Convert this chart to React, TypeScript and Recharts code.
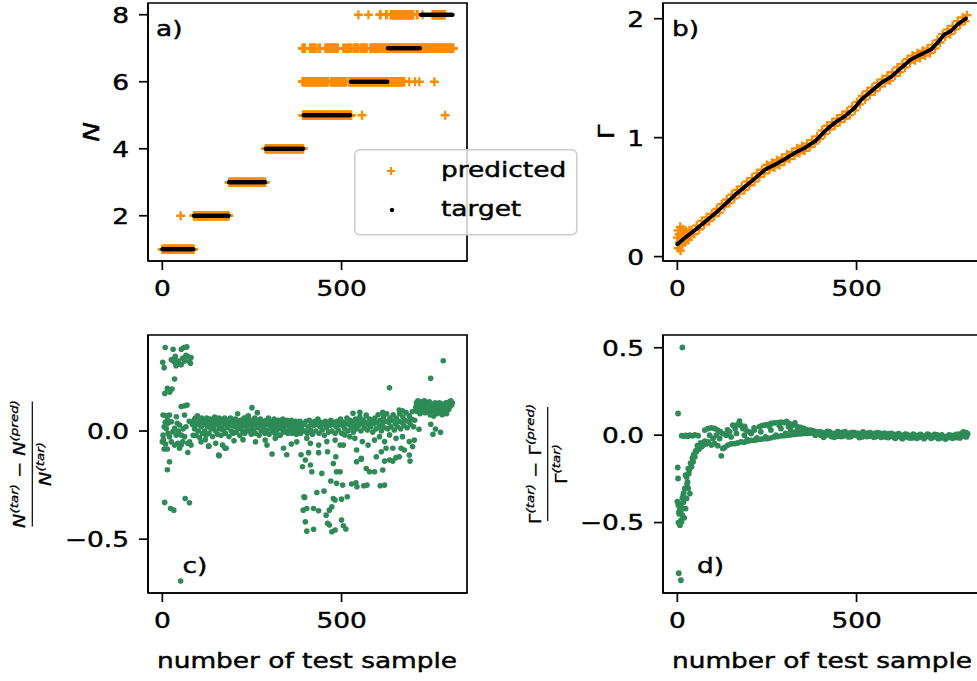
import React from 'react';
import { ScatterChart, Scatter, XAxis, YAxis, ReferenceArea } from 'recharts';

const FONT = '"DejaVu Sans", sans-serif';
const TEXT_SCALE = 1.2;
const TEXT_HALO = 0.45;
const ORANGE = '#ff8c00';
const GREEN = '#2e8b57';

const SERIES_NAMES = ['predicted', 'target'];
const PANEL_LETTERS = ['a)', 'b)', 'c)', 'd)'];
const X_LABEL = 'number of test sample';
const X_DOMAIN = [-40, 850];
const X_TICKS = [0, 500];

// a) runs of [level, first sample, last sample]
const aTargetRuns = [
  [1, 0, 87], [2, 88, 185], [3, 186, 287], [4, 288, 393],
  [5, 394, 524], [6, 526, 628], [7, 629, 719], [8, 721, 810],
];
const aPredictedRuns = [
  [1, 0, 87], [2, 51, 51], [2, 88, 185], [3, 186, 287], [4, 288, 393],
  [5, 392, 527], [5, 557, 557], [5, 789, 789],
  [6, 391, 462], [6, 470, 512], [6, 520, 675], [6, 689, 689], [6, 705, 705], [6, 717, 717], [6, 759, 759],
  [7, 391, 398], [7, 412, 428], [7, 436, 440], [7, 455, 490], [7, 505, 509], [7, 516, 527],
  [7, 534, 546], [7, 553, 570], [7, 580, 812],
  [8, 547, 547], [8, 575, 575], [8, 607, 609], [8, 624, 626], [8, 637, 700], [8, 710, 712],
  [8, 726, 726], [8, 754, 788],
];
const aYTicks = [2, 4, 6, 8];

// b) Gamma
const bTarget = [
  [0, 0.104], [25, 0.168], [52, 0.23], [80, 0.3], [108, 0.37], [136, 0.448], [163, 0.524],
  [191, 0.594], [219, 0.664], [246, 0.734], [274, 0.776], [302, 0.824], [329, 0.874], [357, 0.916],
  [385, 0.972], [403, 1.028], [422, 1.084], [440, 1.126], [468, 1.182], [495, 1.252], [514, 1.322],
  [542, 1.392], [569, 1.462], [597, 1.512], [625, 1.588], [652, 1.658], [680, 1.7], [708, 1.742],
  [726, 1.798], [745, 1.868], [763, 1.896], [782, 1.952], [805, 2.002],
];
const bPredicted = [
  [0, 0.16], [2, 0.22], [3, 0.07], [5, 0.19], [6, 0.12], [8, 0.25], [9, 0.05], [11, 0.17], [12, 0.21],
  [14, 0.1], [15, 0.23], [17, 0.14], [19, 0.2], [21, 0.12], [23, 0.22], [25, 0.15], [28, 0.2],
  [31, 0.14], [34, 0.22], [37, 0.17],
  [40, 0.22], [47, 0.19], [54, 0.26], [61, 0.23], [68, 0.3], [75, 0.27], [82, 0.33], [89, 0.3],
  [96, 0.36], [103, 0.34], [110, 0.4], [117, 0.37], [124, 0.44], [131, 0.42], [138, 0.48],
  [145, 0.45], [152, 0.52], [159, 0.49], [166, 0.56], [173, 0.53], [180, 0.59], [187, 0.56],
  [194, 0.63], [201, 0.6], [208, 0.66], [215, 0.63], [222, 0.7], [229, 0.67], [236, 0.73],
  [243, 0.7], [250, 0.77], [257, 0.73], [264, 0.79], [271, 0.75], [278, 0.81], [285, 0.77],
  [292, 0.83], [299, 0.8], [306, 0.86], [313, 0.82], [320, 0.88], [327, 0.85], [334, 0.91],
  [341, 0.87], [348, 0.93], [355, 0.89], [362, 0.95], [369, 0.92], [376, 0.98], [383, 0.95],
  [390, 1.01], [397, 0.99], [404, 1.06], [411, 1.03], [418, 1.1], [425, 1.07], [432, 1.13],
  [439, 1.1], [446, 1.16], [453, 1.13], [460, 1.19], [467, 1.16], [474, 1.22], [481, 1.19],
  [488, 1.26], [495, 1.23], [502, 1.3], [509, 1.28], [516, 1.35], [523, 1.32], [530, 1.39],
  [537, 1.36], [544, 1.42], [551, 1.39], [558, 1.46], [565, 1.43], [572, 1.49], [579, 1.46],
  [586, 1.52], [593, 1.48], [600, 1.55], [607, 1.52], [614, 1.59], [621, 1.55], [628, 1.62],
  [635, 1.59], [642, 1.66], [649, 1.63], [656, 1.69], [663, 1.65], [670, 1.71], [677, 1.67],
  [684, 1.73], [691, 1.69], [698, 1.75], [705, 1.71], [712, 1.78], [719, 1.75], [726, 1.82],
  [733, 1.8], [740, 1.87], [747, 1.85], [754, 1.91], [761, 1.87], [768, 1.94], [775, 1.91],
  [782, 1.98], [789, 1.95], [796, 2.01], [803, 1.98], [808, 2.03],
];
const bYTicks = [0, 1, 2];

// c) relative error of N
const cLeft = [
  [1, 0.318], [5, 0.293], [8, 0.386], [30, 0.378], [53, 0.378], [60, 0.386], [68, 0.389],
  [25, 0.329], [29.6, 0.332], [32, 0.321], [38, 0.302], [41.5, 0.313], [45, 0.324], [48, 0.309],
  [52.6, 0.306], [57, 0.336], [62, 0.324], [71, 0.344], [76, 0.321], [78.4, 0.313], [80, 0.34],
  [66, 0.35], [36, 0.345], [34, 0.24], [14, 0.197], [27, 0.194], [21, 0.18], [7, 0.174],
  [2, 0.074], [11, 0.071], [20, 0.074], [5, 0.02], [11, 0.012], [16, -0.011], [2, -0.019],
  [20, -0.026], [25, -0.05], [0, -0.05], [5, -0.083], [14, -0.083], [34, -0.065], [43, -0.057],
  [52.6, -0.065], [48, -0.08], [71, -0.057], [76, -0.05], [80, -0.065], [71, -0.099],
  [52.6, 0.113], [62, 0.117], [69, 0.12], [39, 0.066], [41.5, 0.036], [48, 0.028], [62, 0.074],
  [29.6, -0.003], [34, 0.012], [39, -0.019], [25, 0.043], [16, 0.036], [14, 0.051],
  [52.6, -0.019], [62, -0.026], [57, -0.05], [66, 0.02], [75, 0.045], [84, 0.03], [8, 0.04],
  [3, -0.04], [9, -0.06], [45, 0.0], [58, 0.01], [86, -0.02],
  [20, -0.142], [14, -0.179], [6.5, -0.33], [23, -0.358], [32, -0.366], [63.6, -0.312],
  [75.6, -0.332], [51, -0.694],
];
const cBand = [
  [88, 0.05], [90, 0.01], [92, 0.06], [94, -0.02], [96, 0.03], [98, 0.07], [100, 0.0], [102, 0.04],
  [104, -0.03], [106, 0.05], [108, 0.02], [110, 0.06], [112, -0.01], [114, 0.03], [116, 0.05],
  [118, 0.0], [120, 0.04], [122, -0.02], [124, 0.06], [126, 0.02], [128, 0.045], [130, -0.01],
  [132, 0.03], [134, 0.055], [136, 0.01], [138, 0.04], [140, -0.025], [142, 0.05], [144, 0.02],
  [146, 0.065], [148, 0.0], [150, 0.035], [152, 0.05], [154, -0.015], [156, 0.03], [158, 0.06],
  [160, 0.01], [162, 0.045], [164, -0.02], [166, 0.02], [168, 0.055], [170, 0.005], [172, 0.04],
  [174, 0.06], [176, -0.01], [178, 0.03], [180, 0.05], [182, 0.015], [184, 0.04], [186, -0.025],
  [188, 0.035], [190, 0.06], [192, 0.0], [194, 0.025], [196, 0.05], [198, -0.01], [200, 0.04],
  [202, 0.02], [204, 0.055], [206, -0.005], [208, 0.03], [210, 0.045], [212, 0.01], [214, 0.035],
  [216, -0.02], [218, 0.05], [220, 0.02], [222, 0.04], [224, 0.0], [226, 0.03], [228, 0.06],
  [230, -0.01], [232, 0.025], [234, 0.045], [236, 0.01], [238, 0.035], [240, 0.07], [242, 0.0],
  [244, 0.03], [246, 0.05], [248, -0.015], [250, 0.02], [252, 0.045], [254, 0.005], [256, 0.035],
  [258, 0.06], [260, -0.01], [262, 0.03], [264, 0.05], [266, 0.015], [268, 0.04], [270, -0.02],
  [272, 0.025], [274, 0.055], [276, 0.0], [278, 0.03], [280, 0.045], [282, 0.01], [284, 0.04],
  [286, -0.01], [288, 0.03], [290, 0.05], [292, 0.005], [294, 0.035], [296, 0.06], [298, -0.015],
  [300, 0.025], [302, 0.045], [304, 0.01], [306, 0.04], [308, 0.0], [310, 0.03], [312, 0.055],
  [314, -0.01], [316, 0.02], [318, 0.045], [320, 0.005], [322, 0.035], [324, 0.05], [326, -0.02],
  [328, 0.025], [330, 0.04], [332, 0.01], [334, 0.035], [336, 0.055], [338, -0.005], [340, 0.02],
  [342, 0.045], [344, 0.0], [346, 0.03], [348, 0.05], [350, -0.01], [352, 0.025], [354, 0.04],
  [356, 0.01], [358, 0.03], [360, 0.05], [362, -0.01], [364, 0.02], [366, 0.04], [368, 0.0],
  [370, 0.03], [372, 0.045], [374, -0.015], [376, 0.02], [378, 0.04], [380, 0.005], [382, 0.03],
  [384, 0.045], [386, -0.01], [388, 0.02], [390, 0.035], [392, 0.0],
  [108, -0.05], [129, -0.07], [149, -0.057], [158.5, -0.114], [168, -0.065], [175, -0.08],
  [130, -0.07], [157, -0.111], [178, -0.08], [120, -0.04], [200, -0.045], [225, -0.04],
  [260, -0.05], [287, -0.042], [292, -0.065], [306, -0.106], [315, -0.034], [329, -0.019],
  [338, -0.08], [347, -0.11], [387, -0.11], [391, -0.165], [360, -0.06], [375, -0.05],
  [250, 0.108], [237, 0.066], [265, 0.085], [210, 0.08],
];
const cRight = [
  [395, 0.03], [398, 0.0], [401, 0.045], [404, -0.01], [407, 0.02], [410, 0.05], [413, 0.005],
  [416, 0.035], [419, -0.015], [422, 0.025], [425, 0.045], [428, 0.0], [431, 0.03], [434, 0.055],
  [437, -0.01], [440, 0.02], [443, 0.04], [446, 0.005], [449, 0.03], [452, -0.02], [455, 0.045],
  [458, 0.015], [461, 0.035], [464, -0.005], [467, 0.025], [470, 0.05], [473, 0.0], [476, 0.03],
  [479, 0.04], [482, -0.01], [485, 0.02], [488, 0.045], [491, 0.005], [494, 0.03], [497, 0.055],
  [500, -0.01], [503, 0.025], [506, 0.04], [509, 0.01], [512, 0.035], [515, 0.06], [518, 0.0],
  [521, 0.03], [524, 0.05], [527, 0.015], [530, 0.04], [533, -0.005], [536, 0.03], [539, 0.055],
  [542, 0.01], [545, 0.045], [548, 0.025], [551, 0.065], [554, 0.0], [557, 0.035], [560, 0.05],
  [563, 0.015], [566, 0.04], [569, 0.07], [572, 0.005], [575, 0.03], [578, 0.055], [581, 0.02],
  [584, 0.045], [587, -0.005], [590, 0.035], [593, 0.06], [596, 0.01], [599, 0.04], [602, 0.075],
  [605, 0.02], [608, 0.05], [611, 0.0], [614, 0.035], [617, 0.065], [620, 0.015], [623, 0.045],
  [626, 0.08], [629, 0.01], [632, 0.04], [635, 0.06], [638, 0.02], [641, 0.05], [644, 0.075],
  [647, 0.005], [650, 0.035], [653, 0.06], [656, 0.02], [659, 0.045], [662, 0.08], [665, 0.01],
  [668, 0.04], [671, 0.065], [674, 0.025], [677, 0.05], [680, 0.085], [683, 0.015], [686, 0.045],
  [689, 0.07], [692, 0.03], [695, 0.055], [698, 0.09], [701, 0.02], [704, 0.05],
  [532, 0.082], [551, 0.086], [569, 0.074], [615, 0.086], [661, 0.097], [670, 0.093], [633.7, 0.2],
];
const cScatter = [
  [403, -0.034], [413, -0.057], [436, -0.065], [459, -0.049], [482, -0.042], [496, -0.065],
  [509, -0.018], [523, -0.026], [537, -0.034], [558, -0.049], [574, -0.065], [592, -0.042],
  [606, -0.026], [620, -0.049], [634, -0.018], [652, -0.034], [670, -0.026], [689, -0.049],
  [703, -0.042], [408, -0.1], [436, -0.1], [461, -0.096], [484, -0.119], [505, -0.065],
  [542, -0.088], [555, -0.126], [597, -0.119], [611, -0.096], [624, -0.08], [643, -0.08],
  [666, -0.08], [675, -0.088], [689, -0.111], [698, -0.072], [399, -0.134], [413, -0.157],
  [417, -0.188], [445, -0.196], [477, -0.15], [486, -0.188], [496, -0.188], [542, -0.142],
  [555, -0.13], [569, -0.173], [578, -0.188], [592, -0.188], [615, -0.18], [620, -0.139],
  [634, -0.134], [643, -0.139], [652, -0.123], [661, -0.119], [691, -0.139], [470, -0.231],
  [486, -0.242], [503, -0.25], [528, -0.245], [540, -0.239], [543, -0.258], [562, -0.253],
  [571, -0.25], [608, -0.253], [620, -0.25], [431, -0.284], [451, -0.278], [397, -0.307],
  [477, -0.312], [500, -0.315], [516, -0.304], [403, -0.358], [422, -0.358], [436, -0.369],
  [457, -0.389], [466, -0.366], [473, -0.35], [482, -0.319], [399, -0.42], [461, -0.427],
  [466, -0.435], [473, -0.466], [482, -0.458], [500, -0.412], [505, -0.438], [512, -0.453],
  [403, -0.463], [422, -0.454], [393, -0.366], [395, -0.304],
];
const cTail = [
  [707, 0.11], [709, 0.13], [711, 0.09], [713, 0.14], [715, 0.1], [717, 0.125], [719, 0.08],
  [721, 0.115], [723, 0.135], [725, 0.095], [727, 0.12], [729, 0.105], [731, 0.14], [733, 0.085],
  [735, 0.12], [737, 0.1], [739, 0.13], [741, 0.09], [743, 0.115], [745, 0.135], [747, 0.075],
  [749, 0.11], [751, 0.125], [753, 0.095], [755, 0.12], [757, 0.07], [759, 0.105], [761, 0.13],
  [763, 0.09], [765, 0.115], [767, 0.08], [769, 0.12], [771, 0.1], [773, 0.13], [775, 0.085],
  [777, 0.11], [779, 0.125], [781, 0.075], [783, 0.1], [785, 0.12], [787, 0.09], [789, 0.115],
  [791, 0.13], [793, 0.08], [795, 0.11], [797, 0.125], [799, 0.1], [801, 0.135], [803, 0.115],
  [805, 0.14], [807, 0.12], [809, 0.13],
  [716, 0.008], [749, 0.031], [755, -0.015], [762, 0.009], [776, -0.006],
  [748.6, 0.244], [783.7, 0.325],
];
const cYTicks = [-0.5, 0];

// d) relative error of Gamma
const dEarly = [
  [14, 0.502], [2, 0.124], [1, -0.185], [2, -0.248], [4, -0.79], [10, -0.83],
  [12, -0.003], [18, -0.005], [23, -0.002], [29, -0.006], [35, 0.0], [42, -0.004], [49, 0.002], [58, -0.003],
  [0, -0.38], [2.6, -0.4], [4.5, -0.439], [7.3, -0.42], [7.3, -0.515], [10, -0.487], [11.9, -0.391],
  [12, -0.496], [13.7, -0.458], [16.5, -0.343], [17.4, -0.382], [19, -0.473], [21, -0.305],
  [23, -0.42], [23, -0.229], [25.7, -0.362], [28.5, -0.267], [30.3, -0.305], [30.3, -0.191],
  [35, -0.334], [39.6, -0.181], [44, -0.152], [48.8, -0.124], [53.4, -0.095], [58, -0.076],
  [62.6, -0.057], [67, -0.067], [72, -0.048], [76.5, -0.034], [5, -0.45], [9, -0.44], [15, -0.42],
  [26, -0.24], [33, -0.2], [37, -0.16], [42, -0.13], [46, -0.11], [51, -0.09], [56, -0.06],
  [60, -0.08], [65, -0.045], [70, -0.06], [80, -0.05], [3, -0.5], [14, -0.36], [18, -0.33],
  [27, -0.28], [32, -0.22],
];
const dLoop = [
  [76.5, 0.029], [86, 0.038], [95, 0.042], [104, 0.038], [113, 0.029], [90, 0.0], [99.6, -0.019],
  [109, 0.0], [118, -0.019], [127, 0.009], [136.5, 0.0], [146, 0.019], [155, 0.057], [161.4, 0.038],
  [173.4, 0.08], [182.6, 0.038], [192, 0.029], [201, 0.019], [215, 0.029], [229, 0.048],
  [242.6, 0.057], [261, 0.067], [279.6, 0.072], [298, 0.072], [312, 0.067], [321, 0.057],
  [335, 0.048], [353.4, 0.038], [372, 0.029], [390, 0.019], [168, 0.06], [178, 0.055], [188, 0.05],
  [236, 0.055], [250, 0.06], [270, 0.07], [289, 0.075], [305, 0.078], [316, 0.06], [328, 0.07],
  [344, 0.045], [362, 0.03], [380, 0.025],
  [86, -0.038], [95, -0.057], [104, -0.048], [122.6, -0.118], [127, -0.076], [141, -0.057],
  [159.6, -0.048], [178, -0.038], [196.5, -0.034], [215, -0.029], [233, -0.023], [252, -0.019],
  [270, -0.01], [289, -0.004], [307, 0.0], [326, 0.004], [344, 0.008], [362.6, 0.01], [381, 0.01],
  [113, -0.06], [132, -0.07], [150, -0.05], [168, -0.045], [187, -0.04], [206, -0.03], [224, -0.025],
  [243, -0.02], [261, -0.015], [280, -0.008], [298, -0.003], [316, 0.002], [335, 0.006], [353, 0.01],
  [372, 0.012], [390, 0.01], [187, 0.0], [206, 0.009], [233, 0.019], [261, 0.029], [289, 0.038],
  [316, 0.029], [344, 0.029], [120, 0.02], [140, 0.03], [150, -0.01], [165, 0.01],
  [195, -0.025], [222, -0.015], [246, -0.01], [275, 0.0], [302, 0.01], [330, 0.018], [358, 0.022],
  [214, 0.042], [257, 0.05], [284, 0.058], [310, 0.05], [340, 0.035], [367, 0.02], [385, 0.0],
];
const dFlat = [
  [395, 0.01], [400, 0.0], [405, 0.015], [410, -0.005], [415, 0.012], [420, 0.002], [425, 0.018],
  [430, -0.008], [435, 0.01], [440, 0.0], [445, 0.014], [450, -0.006], [455, 0.008], [460, 0.016],
  [465, -0.004], [470, 0.01], [475, 0.0], [480, 0.012], [485, -0.008], [490, 0.006], [495, 0.015],
  [500, -0.002], [505, 0.01], [510, 0.004], [515, -0.01], [520, 0.008], [525, 0.002], [530, 0.012],
  [535, -0.006], [540, 0.006], [545, 0.0], [550, 0.01], [555, -0.008], [560, 0.004], [565, 0.012],
  [570, -0.004], [575, 0.006], [580, -0.01], [585, 0.002], [590, 0.008], [595, -0.006], [600, 0.0],
  [605, -0.012], [610, 0.004], [615, -0.006], [620, 0.002], [625, -0.014], [630, -0.002],
  [635, 0.004], [640, -0.01], [645, 0.0], [650, -0.006], [655, -0.016], [660, 0.002], [665, -0.008],
  [670, -0.002], [675, -0.012], [680, 0.0], [685, -0.006], [690, -0.014], [695, -0.002],
  [700, -0.008], [705, 0.0], [710, -0.012], [715, -0.004], [720, -0.01], [725, 0.002], [730, -0.008],
  [735, -0.016], [740, -0.004], [745, -0.01], [750, -0.018], [755, -0.006], [760, -0.012],
  [765, -0.002], [770, -0.01], [775, 0.0], [780, -0.014], [785, 0.006], [790, -0.008], [795, 0.012],
  [800, -0.004], [805, 0.014], [808, 0.0], [810, 0.008],
  [398, 0.02], [408, -0.012], [418, 0.022], [428, 0.006], [438, -0.012], [448, 0.02], [458, -0.008],
  [468, 0.02], [478, -0.01], [488, 0.016], [498, 0.002], [508, -0.014], [518, 0.018], [528, -0.008],
  [538, 0.014], [548, -0.012], [558, 0.014], [568, -0.012], [578, 0.012], [588, -0.014], [598, 0.01],
  [608, -0.018], [618, 0.008], [628, -0.02], [638, 0.006], [648, -0.016], [658, 0.006], [668, -0.018],
  [678, 0.004], [688, -0.02], [698, 0.006], [708, -0.018], [718, 0.004], [728, -0.02], [738, 0.002],
  [748, -0.022], [758, 0.002], [768, -0.018], [778, 0.004], [788, -0.016], [798, 0.018], [806, -0.01],
];
const dYTicks = [-0.5, 0, 0.5];

// helpers to turn the arrays into recharts rows
const runsToPoints = (runs: number[][]) => runs.flatMap(([level, from, to]) => {
  const pts = [];
  for (let s = from; s <= to; s += 1) pts.push({ x: s, y: level });
  return pts;
});
const toPoints = (pairs: number[][]) => pairs.map(([x, y]) => ({ x, y }));

const fmtInt = (v: number) => String(v);
const fmtOne = (v: number) => (v < 0 ? '\u2212' : '') + Math.abs(v).toFixed(1);

const AXIS_STROKE = { stroke: '#000', strokeWidth: 1.7 };
const PLOT_W = 319;
const PLOT_H = 258;

const plusShape = (p: any) => (
  <path
    d={`M${p.cx - 4.5},${p.cy}h9M${p.cx},${p.cy - 4.5}v9`}
    stroke={ORANGE}
    strokeWidth={2.3}
    fill="none"
  />
);
const dotShape = (r: number, color: string) => (p: any) => (
  <circle cx={p.cx} cy={p.cy} r={r} fill={color} />
);

// shared props for every piece of text (slightly widened, slightly heavier)
const textProps = {
  fontFamily: FONT,
  fill: '#000',
  stroke: '#000',
  strokeWidth: TEXT_HALO,
};

function XTick({ x, y, payload }: any) {
  return (
    <g transform={`translate(${x},${y})`}>
      <text transform={`scale(${TEXT_SCALE},1)`} textAnchor="middle" dy="0.73em" fontSize={22} {...textProps}>
        {fmtInt(payload.value)}
      </text>
    </g>
  );
}

function YTick({ x, y, payload, fmt }: any) {
  return (
    <g transform={`translate(${x},${y})`}>
      <text transform={`scale(${TEXT_SCALE},1)`} textAnchor="end" dy="0.36em" fontSize={22} {...textProps}>
        {fmt(payload.value)}
      </text>
    </g>
  );
}

function Panel({
  left, top, height, marginTop, yWidth, yDomain, yTicks, yFmt, children,
}: any) {
  return (
    <div style={{ position: 'absolute', left, top }}>
      <ScatterChart
        width={yWidth + PLOT_W + 20}
        height={height}
        margin={{ top: marginTop, right: 20, bottom: 0, left: 0 }}
      >
        <XAxis
          type="number"
          dataKey="x"
          domain={X_DOMAIN}
          ticks={X_TICKS}
          allowDataOverflow
          height={height - marginTop - PLOT_H}
          tickSize={9}
          tickMargin={10}
          axisLine={AXIS_STROKE}
          tickLine={AXIS_STROKE}
          tick={(p: any) => <XTick {...p} />}
        />
        <YAxis
          type="number"
          dataKey="y"
          domain={yDomain}
          ticks={yTicks}
          allowDataOverflow
          width={yWidth}
          tickSize={9}
          tickMargin={10}
          axisLine={AXIS_STROKE}
          tickLine={AXIS_STROKE}
          tick={(p: any) => <YTick {...p} fmt={yFmt} />}
        />
        <ReferenceArea
          x1={X_DOMAIN[0]}
          x2={X_DOMAIN[1]}
          y1={yDomain[0]}
          y2={yDomain[1]}
          fill="none"
          fillOpacity={0}
          stroke="#000"
          strokeWidth={1.7}
        />
        {children}
      </ScatterChart>
    </div>
  );
}

function Stretched({
  x, y, children, anchor = 'start', size = 22, rotate = false, italic = false,
}: any) {
  return (
    <text
      transform={`translate(${x},${y})${rotate ? ' rotate(-90)' : ''} scale(${TEXT_SCALE},1)`}
      textAnchor={anchor}
      fontSize={size}
      fontStyle={italic ? 'italic' : 'normal'}
      {...textProps}
    >
      {children}
    </text>
  );
}

function Fraction({
  x, y, sym, italic, half,
}: any) {
  const st = italic ? 'italic' : 'normal';
  return (
    <g transform={`translate(${x},${y}) rotate(-90)`} {...textProps} strokeWidth={0.3}>
      <text transform={`translate(0,-7) scale(${TEXT_SCALE},1)`} textAnchor="middle" fontSize={16}>
        <tspan fontStyle={st}>{sym}</tspan>
        <tspan fontSize={11.2} dy={-7} fontStyle="italic">(tar)</tspan>
        <tspan dy={7}>{' \u2212 '}</tspan>
        <tspan fontStyle={st}>{sym}</tspan>
        <tspan fontSize={11.2} dy={-7} fontStyle="italic">(pred)</tspan>
      </text>
      <line x1={-half} x2={half} y1={0} y2={0} stroke="#000" strokeWidth={1.2} />
      <text transform={`translate(0,19) scale(${TEXT_SCALE},1)`} textAnchor="middle" fontSize={16}>
        <tspan fontStyle={st}>{sym}</tspan>
        <tspan fontSize={11.2} dy={-7} fontStyle="italic">(tar)</tspan>
      </text>
    </g>
  );
}

export default function App() {
  const aPred = runsToPoints(aPredictedRuns);
  const aTar = runsToPoints(aTargetRuns);

  return (
    <div
      style={{
        position: 'absolute', left: 0, top: 0, width: 977, height: 681, overflow: 'hidden', background: '#fff',
      }}
    >
      <Panel left={0} top={0} height={330} marginTop={3} yWidth={148} yDomain={[0.65, 8.35]} yTicks={aYTicks} yFmt={fmtInt}>
        <Scatter name={SERIES_NAMES[0]} data={aPred} shape={plusShape} isAnimationActive={false} />
        <Scatter name={SERIES_NAMES[1]} data={aTar} shape={dotShape(2, '#000')} isAnimationActive={false} />
      </Panel>
      <Panel left={500} top={0} height={330} marginTop={3} yWidth={163} yDomain={[-0.037, 2.132]} yTicks={bYTicks} yFmt={fmtInt}>
        <Scatter name={SERIES_NAMES[0]} data={toPoints(bPredicted)} shape={plusShape} isAnimationActive={false} />
        <Scatter
          name={SERIES_NAMES[1]}
          data={toPoints(bTarget)}
          fill="#000"
          stroke="#000"
          line={{ stroke: '#000', strokeWidth: 3.8 }}
          shape={dotShape(1.9, '#000')}
          isAnimationActive={false}
        />
      </Panel>
      <Panel left={0} top={320} height={361} marginTop={15} yWidth={148} yDomain={[-0.749, 0.444]} yTicks={cYTicks} yFmt={fmtOne}>
        <Scatter data={toPoints([...cLeft, ...cBand, ...cRight, ...cScatter, ...cTail])} shape={dotShape(2.8, GREEN)} isAnimationActive={false} />
      </Panel>
      <Panel left={500} top={320} height={361} marginTop={15} yWidth={163} yDomain={[-0.903, 0.573]} yTicks={dYTicks} yFmt={fmtOne}>
        <Scatter data={toPoints([...dEarly, ...dLoop, ...dFlat])} shape={dotShape(2.9, GREEN)} isAnimationActive={false} />
      </Panel>

      <svg width={977} height={681} style={{ position: 'absolute', left: 0, top: 0 }}>
        <Stretched x={156} y={36}>{PANEL_LETTERS[0]}</Stretched>
        <Stretched x={672} y={36}>{PANEL_LETTERS[1]}</Stretched>
        <Stretched x={182.5} y={573}>{PANEL_LETTERS[2]}</Stretched>
        <Stretched x={697} y={573}>{PANEL_LETTERS[3]}</Stretched>

        <Stretched x={99} y={132} anchor="middle" rotate italic>N</Stretched>
        <Stretched x={614} y={132} anchor="middle" rotate>Γ</Stretched>
        <Fraction x={32.3} y={464} sym="N" italic half={62.5} />
        <Fraction x={547.7} y={464} sym="Γ" italic={false} half={57} />

        <Stretched x={307} y={668} anchor="middle">{X_LABEL}</Stretched>
        <Stretched x={822} y={668} anchor="middle">{X_LABEL}</Stretched>

        <g transform="translate(354,149)">
          <rect x={0.75} y={0.75} width={222} height={85} rx={5} fill="#fff" fillOpacity={0.8} stroke="#cccccc" strokeWidth={1.5} />
          <path d="M33,22h8M37,18v8" stroke={ORANGE} strokeWidth={2.2} fill="none" />
          <circle cx={38} cy={61} r={2.2} fill="#000" />
          <Stretched x={87} y={28}>{SERIES_NAMES[0]}</Stretched>
          <Stretched x={87} y={67}>{SERIES_NAMES[1]}</Stretched>
        </g>
      </svg>
    </div>
  );
}
